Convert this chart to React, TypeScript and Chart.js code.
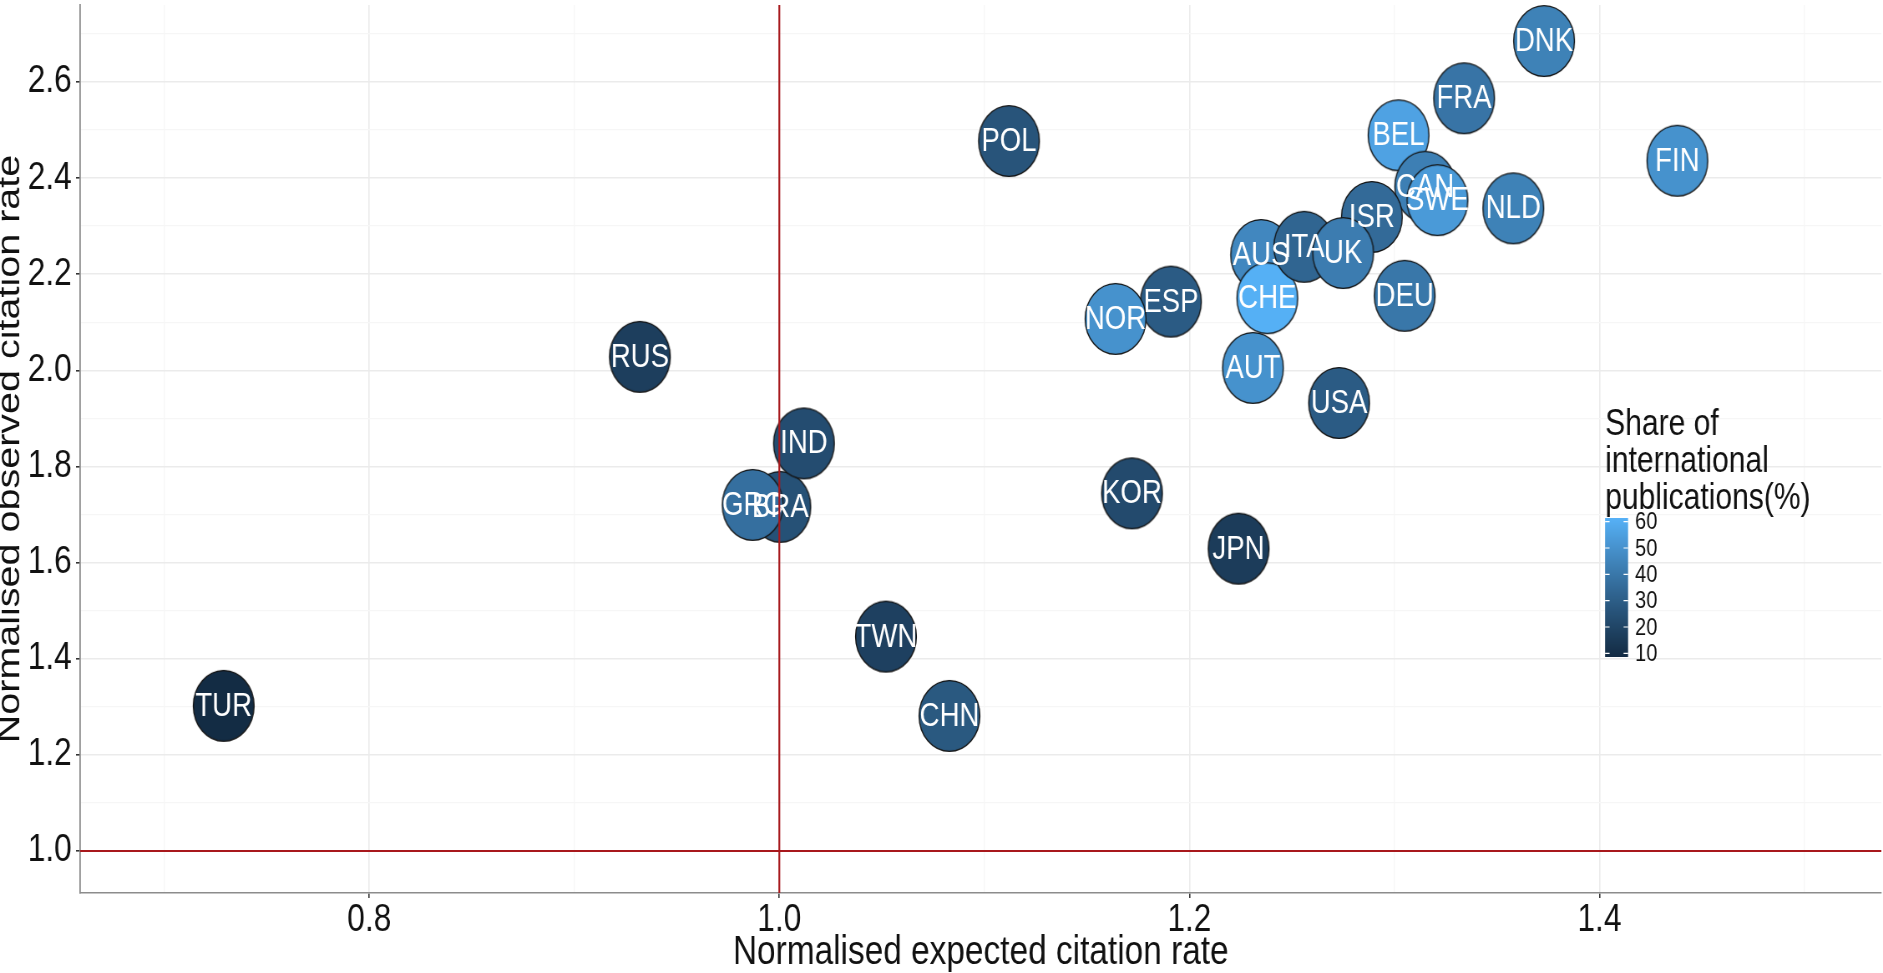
import React, { useEffect, useRef } from 'react';
import { Chart, registerables } from 'chart.js';

Chart.register(...registerables);

// ---------------- data ----------------
const countries = ['AUS', 'AUT', 'BEL', 'BRA', 'CAN', 'CHE', 'CHN', 'DEU', 'DNK', 'ESP', 'FIN', 'FRA', 'GRC', 'IND', 'ISR', 'ITA', 'JPN', 'KOR', 'NLD', 'NOR', 'POL', 'RUS', 'SWE', 'TUR', 'TWN', 'UK', 'USA'];
const expectedRate = [1.235, 1.231, 1.302, 1.0005, 1.315, 1.238, 1.083, 1.305, 1.373, 1.191, 1.438, 1.334, 0.987, 1.012, 1.289, 1.256, 1.224, 1.172, 1.358, 1.164, 1.112, 0.932, 1.321, 0.729, 1.052, 1.275, 1.273];
const observedRate = [2.240, 2.005, 2.489, 1.716, 2.382, 2.150, 1.281, 2.155, 2.685, 2.143, 2.436, 2.566, 1.720, 1.848, 2.319, 2.257, 1.629, 1.744, 2.337, 2.107, 2.477, 2.028, 2.354, 1.302, 1.446, 2.244, 1.932];
const intlShare = [46, 50, 56, 25, 43, 61, 28, 40, 44, 29, 50, 39, 37, 23, 35, 33, 16, 22, 44, 50, 26, 17, 53, 9, 18, 42, 29];

const xGridValues = [0.7, 0.8, 0.9, 1.0, 1.1, 1.2, 1.3, 1.4, 1.5];
const yGridValues = [1.0, 1.1, 1.2, 1.3, 1.4, 1.5, 1.6, 1.7, 1.8, 1.9, 2.0, 2.1, 2.2, 2.3, 2.4, 2.5, 2.6, 2.7];
const legendBreaks = [10, 20, 30, 40, 50, 60];
const legendTitleLines = ['Share of', 'international', 'publications(%)'];
const xTitle = 'Normalised expected citation rate';
const yTitle = 'Normalised observed citation rate';

const X_MIN = 0.659;
const X_MAX = 1.5375;
const Y_MIN = 0.9126;
const Y_MAX = 2.76;
const REF_X = 1.0;
const REF_Y = 1.0;
const SHARE_LIMITS = [8.6, 61.4];

// ---------------- styling ----------------
// The reference is a horizontally condensed rendering: the canvas is drawn wider
// and displayed squeezed to the page width.
const VIEW_W = 1883;
const VIEW_H = 973;
const SQUEEZE = 0.835;
const CANVAS_W = Math.round(VIEW_W / SQUEEZE);
const FONT = '"Liberation Sans", Arial, Helvetica, sans-serif';
const RED = '#A8181C';
const LOW = '#132B43';
const HIGH = '#56B1F7';

function hexToRgb(h: string): number[] {
  const n = parseInt(h.slice(1), 16);
  return [(n >> 16) & 255, (n >> 8) & 255, n & 255];
}
function toLin(c: number) {
  c /= 255;
  return c <= 0.04045 ? c / 12.92 : Math.pow((c + 0.055) / 1.055, 2.4);
}
function fromLin(c: number) {
  const v = c <= 0.0031308 ? 12.92 * c : 1.055 * Math.pow(c, 1 / 2.4) - 0.055;
  return Math.max(0, Math.min(255, Math.round(v * 255)));
}
const WX = 0.95047, WY = 1.0, WZ = 1.08883;
function f(t: number) { return t > 0.008856 ? Math.cbrt(t) : 7.787 * t + 16 / 116; }
function finv(t: number) { return t > 0.206893 ? t * t * t : (t - 16 / 116) / 7.787; }
function rgbToLab(rgb: number[]) {
  const [r, g, b] = rgb.map(toLin);
  const X = (0.4124 * r + 0.3576 * g + 0.1805 * b) / WX;
  const Y = (0.2126 * r + 0.7152 * g + 0.0722 * b) / WY;
  const Z = (0.0193 * r + 0.1192 * g + 0.9505 * b) / WZ;
  const fx = f(X), fy = f(Y), fz = f(Z);
  return [116 * fy - 16, 500 * (fx - fy), 200 * (fy - fz)];
}
function labToRgb(lab: number[]) {
  const fy = (lab[0] + 16) / 116;
  const fx = fy + lab[1] / 500;
  const fz = fy - lab[2] / 200;
  const X = finv(fx) * WX, Y = finv(fy) * WY, Z = finv(fz) * WZ;
  const r = 3.2406 * X - 1.5372 * Y - 0.4986 * Z;
  const g = -0.9689 * X + 1.8758 * Y + 0.0415 * Z;
  const b = 0.0557 * X - 0.2040 * Y + 1.0570 * Z;
  return [fromLin(r), fromLin(g), fromLin(b)];
}
const LAB_LOW = rgbToLab(hexToRgb(LOW));
const LAB_HIGH = rgbToLab(hexToRgb(HIGH));
function shareColor(v: number) {
  let t = (v - SHARE_LIMITS[0]) / (SHARE_LIMITS[1] - SHARE_LIMITS[0]);
  t = Math.max(0, Math.min(1, t));
  const lab = LAB_LOW.map((l, i) => l + (LAB_HIGH[i] - l) * t);
  const [r, g, b] = labToRgb(lab);
  return `rgb(${r},${g},${b})`;
}

function makeEllipse(color: string) {
  const c = document.createElement('canvas');
  c.width = 78;
  c.height = 76;
  const g = c.getContext('2d')!;
  g.beginPath();
  g.ellipse(39, 38, 36.4, 35.4, 0, 0, Math.PI * 2);
  g.fillStyle = color;
  g.fill();
  g.lineWidth = 1.4;
  g.strokeStyle = '#141414';
  g.stroke();
  return c;
}

function isMajor(v: number) {
  return Math.abs(v * 5 - Math.round(v * 5)) < 1e-6;
}

const BUBBLE_INDEX = 2;

const labelPlugin = {
  id: 'bubbleLabels',
  afterDatasetDraw(chart: any, args: any) {
    if (args.index !== BUBBLE_INDEX) return;
    const ctx = chart.ctx;
    ctx.save();
    ctx.fillStyle = '#ffffff';
    ctx.font = `33px ${FONT}`;
    ctx.textAlign = 'center';
    ctx.textBaseline = 'middle';
    args.meta.data.forEach((el: any, i: number) => {
      ctx.fillText(countries[i], el.x, el.y + 1);
    });
    ctx.restore();
  },
};

const legendPlugin = {
  id: 'shareLegend',
  afterDraw(chart: any) {
    const ctx = chart.ctx;
    const left = 1605 / SQUEEZE;
    ctx.save();
    ctx.fillStyle = '#111';
    ctx.font = `36px ${FONT}`;
    ctx.textAlign = 'left';
    ctx.textBaseline = 'alphabetic';
    legendTitleLines.forEach((line, i) => ctx.fillText(line, left, 435 + i * 37));

    const barX = left, barW = 23 / SQUEEZE, barTop = 518, barBottom = 657;
    const span = SHARE_LIMITS[1] - SHARE_LIMITS[0];
    for (let y = barTop; y < barBottom; y++) {
      const v = SHARE_LIMITS[1] - ((y + 0.5 - barTop) / (barBottom - barTop)) * span;
      ctx.fillStyle = shareColor(v);
      ctx.fillRect(barX, y, barW, 1);
    }
    ctx.font = `24px ${FONT}`;
    ctx.textBaseline = 'middle';
    const mark = 4.5 / SQUEEZE;
    legendBreaks.forEach((b) => {
      const y = barBottom - ((b - SHARE_LIMITS[0]) / span) * (barBottom - barTop);
      ctx.strokeStyle = '#ffffff';
      ctx.lineWidth = 1.2;
      ctx.beginPath();
      ctx.moveTo(barX, y);
      ctx.lineTo(barX + mark, y);
      ctx.moveTo(barX + barW - mark, y);
      ctx.lineTo(barX + barW, y);
      ctx.stroke();
      ctx.fillStyle = '#111';
      ctx.fillText(String(b), 1635 / SQUEEZE, y + 1);
    });
    ctx.restore();
  },
};

export default function App() {
  const ref = useRef<HTMLCanvasElement | null>(null);

  useEffect(() => {
    document.body.style.margin = '0';
    const canvas = ref.current;
    if (!canvas) return;
    const images = intlShare.map((s) => makeEllipse(shareColor(s)));
    const points = countries.map((_, i) => ({ x: expectedRate[i], y: observedRate[i] }));

    const gridColor = (c: any) => (isMajor(c.tick.value) ? '#EBEBEB' : '#F6F6F6');
    const gridWidth = (c: any) => (isMajor(c.tick.value) ? 1.6 : 1.3);
    const tickColor = (c: any) => (isMajor(c.tick.value) ? '#333333' : 'rgba(0,0,0,0)');
    const tickLabel = (v: any) => (isMajor(Number(v)) ? Number(v).toFixed(1) : '');

    const chart = new Chart(canvas, {
      type: 'scatter',
      data: {
        datasets: [
          {
            type: 'line',
            data: [{ x: REF_X, y: Y_MIN }, { x: REF_X, y: Y_MAX }],
            borderColor: RED,
            borderWidth: 2.2,
            pointRadius: 0,
            fill: false,
          } as any,
          {
            type: 'line',
            data: [{ x: X_MIN, y: REF_Y }, { x: X_MAX, y: REF_Y }],
            borderColor: RED,
            borderWidth: 2,
            pointRadius: 0,
            fill: false,
          } as any,
          {
            type: 'scatter',
            data: points,
            pointStyle: (c: any) => images[c.dataIndex],
            pointRadius: 1,
            pointHoverRadius: 1,
          } as any,
        ],
      },
      options: {
        animation: false,
        responsive: false,
        devicePixelRatio: 1,
        events: [],
        layout: { padding: { top: 5, left: 0, right: 0, bottom: 0 } },
        plugins: {
          legend: { display: false },
          tooltip: { enabled: false },
        },
        scales: {
          x: {
            type: 'linear',
            min: X_MIN,
            max: X_MAX,
            afterBuildTicks: (s: any) => {
              s.ticks = xGridValues.map((value) => ({ value }));
            },
            afterFit: (s: any) => {
              s.height = 80;
              s.paddingLeft = 0;
              s.paddingRight = 0;
            },
            ticks: {
              autoSkip: false,
              maxRotation: 0,
              padding: 0,
              color: '#111',
              font: { family: FONT, size: 38 },
              callback: tickLabel,
            },
            grid: {
              color: gridColor,
              lineWidth: gridWidth,
              drawTicks: true,
              tickLength: 5,
              tickWidth: 1.6,
              tickColor,
            },
            border: { display: true, color: '#8C8C8C', width: 1.6 },
            title: {
              display: true,
              text: xTitle,
              color: '#111',
              font: { family: FONT, size: 40, lineHeight: 1.0 },
              padding: 0,
            },
          },
          y: {
            type: 'linear',
            min: Y_MIN,
            max: Y_MAX,
            afterBuildTicks: (s: any) => {
              s.ticks = yGridValues.map((value) => ({ value }));
            },
            afterFit: (s: any) => {
              s.width = 96;
              s.paddingTop = 0;
              s.paddingBottom = 0;
            },
            ticks: {
              autoSkip: false,
              padding: 5,
              color: '#111',
              font: { family: FONT, size: 38 },
              callback: tickLabel,
            },
            grid: {
              color: gridColor,
              lineWidth: gridWidth,
              drawTicks: true,
              tickLength: 5,
              tickWidth: 1.6,
              tickColor,
            },
            border: { display: true, color: '#8C8C8C', width: 1.8 },
            title: {
              display: true,
              text: yTitle,
              color: '#111',
              font: { family: FONT, size: 39.5, lineHeight: 0.62 },
              padding: 0,
            },
          },
        },
      } as any,
      plugins: [labelPlugin, legendPlugin],
    });

    return () => chart.destroy();
  }, []);

  return (
    <div style={{ width: VIEW_W, height: VIEW_H, position: 'relative', overflow: 'hidden' }}>
      <canvas
        ref={ref}
        width={CANVAS_W}
        height={VIEW_H}
        style={{ display: 'block', width: VIEW_W, height: VIEW_H }}
      />
    </div>
  );
}
